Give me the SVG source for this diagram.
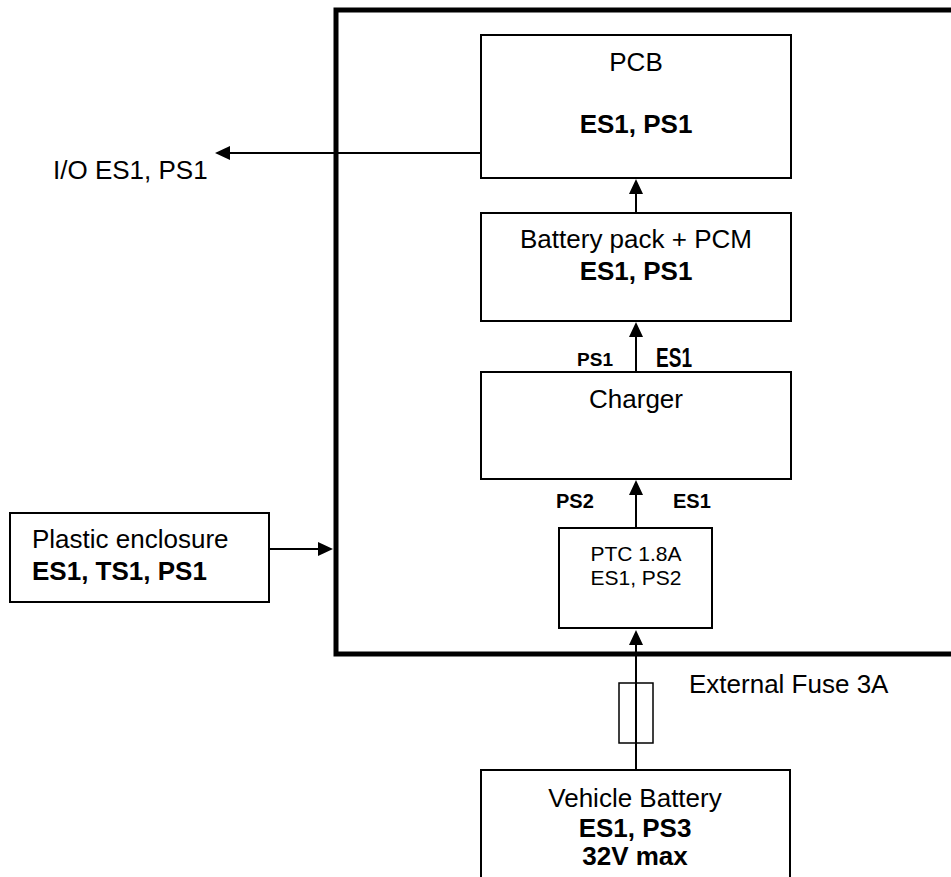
<svg xmlns="http://www.w3.org/2000/svg" width="951" height="877" viewBox="0 0 951 877">
<style>
.box{fill:#fff;stroke:#000;stroke-width:2}
.t{font-family:"Liberation Sans",Arial,sans-serif;font-size:26px;fill:#000}
.b{font-weight:bold}
.m{text-anchor:middle}
.c{stroke:#000;stroke-width:2;fill:none}
</style>
<defs>
<marker id="ah" viewBox="0 0 15 14" refX="5" refY="7" markerWidth="15" markerHeight="14" markerUnits="userSpaceOnUse" orient="auto">
<path d="M0,0 L15,7 L0,14 Z" fill="#000"/>
</marker>
</defs>
<rect width="951" height="877" fill="#fff"/>
<g id="frame">
<path d="M951,10 H336 V654 H951" fill="none" stroke="#000" stroke-width="5" stroke-linejoin="miter"/>
</g>
<g id="pcb">
<rect class="box" x="481" y="35" width="310" height="143"/>
<text class="t m" x="636" y="71">PCB</text>
<text class="t b m" x="636" y="133">ES1, PS1</text>
</g>
<g id="battery-pack">
<rect class="box" x="481" y="213" width="310" height="108"/>
<text class="t m" x="636" y="248">Battery pack + PCM</text>
<text class="t b m" x="636" y="280">ES1, PS1</text>
</g>
<g id="charger">
<rect class="box" x="481" y="372" width="310" height="107"/>
<text class="t m" x="636" y="408">Charger</text>
</g>
<g id="ptc">
<rect class="box" x="559" y="528" width="153" height="100"/>
<text class="t m" x="636" y="561" style="font-size:21px">PTC 1.8A</text>
<text class="t m" x="636" y="585" style="font-size:21px">ES1, PS2</text>
</g>
<g id="plastic-enclosure">
<rect class="box" x="10" y="513" width="259" height="89"/>
<text class="t" x="32" y="548">Plastic enclosure</text>
<text class="t b" x="32" y="580">ES1, TS1, PS1</text>
</g>
<g id="vehicle-battery">
<rect class="box" x="481" y="770" width="309" height="130"/>
<text class="t m" x="635" y="807">Vehicle Battery</text>
<text class="t b m" x="635" y="837">ES1, PS3</text>
<text class="t b m" x="635" y="865">32V max</text>
</g>
<g id="io-label">
<text class="t" x="53" y="179">I/O ES1, PS1</text>
</g>
<g id="fuse-label">
<text class="t" x="689" y="693">External Fuse 3A</text>
</g>
<g id="connectors">
<line class="c" x1="481" y1="153" x2="225" y2="153" marker-end="url(#ah)"/>
<line class="c" x1="636" y1="213" x2="636" y2="189" marker-end="url(#ah)"/>
<line class="c" x1="636" y1="372" x2="636" y2="332" marker-end="url(#ah)"/>
<line class="c" x1="636" y1="528" x2="636" y2="490" marker-end="url(#ah)"/>
<line class="c" x1="636" y1="770" x2="636" y2="640" marker-end="url(#ah)"/>
<line class="c" x1="269" y1="549" x2="323" y2="549" marker-end="url(#ah)"/>
<rect x="619" y="683" width="34" height="60" fill="none" stroke="#000" stroke-width="1.5"/>
<text class="t b" x="613" y="366" style="font-size:19px;text-anchor:end">PS1</text>
<text class="t b" x="656" y="367" style="font-size:28px" textLength="36" lengthAdjust="spacingAndGlyphs">ES1</text>
<text class="t b" x="556" y="508" style="font-size:20px">PS2</text>
<text class="t b" x="673" y="508" style="font-size:20px">ES1</text>
</g>
</svg>
